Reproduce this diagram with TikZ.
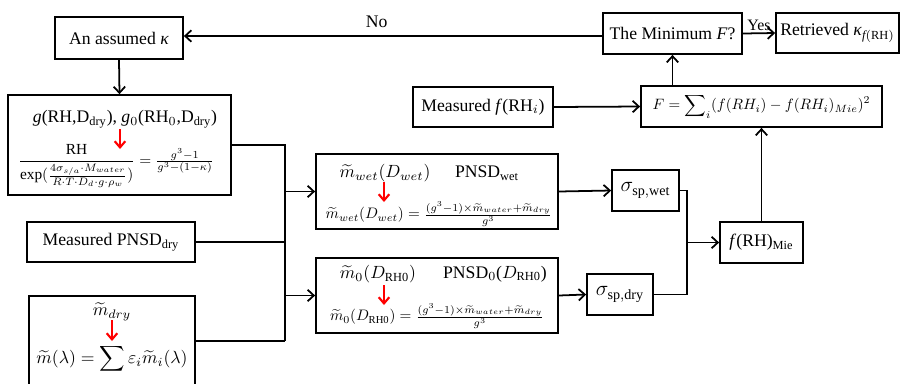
\documentclass[tikz,border=0pt]{standalone}
\usepackage{amsmath}
\usepackage{fontspec}
\setmainfont{Liberation Serif}
\usetikzlibrary{arrows.meta}

\newlength\unitpx
\setlength\unitpx{0.566pt}

\tikzset{
  box/.style={draw, line width=1pt, inner sep=1pt},
  txt/.style={inner sep=0pt},
  line/.style={line width=1pt},
  arr/.style={line width=1pt, -{Straight Barb[length=3.5pt,width=6.5pt]}},
  redarr/.style={red, line width=1.2pt, -{Straight Barb[length=3.5pt,width=6pt]}},
}

\begin{document}
\begin{tikzpicture}[x=0.566pt, y=-0.566pt]
    \useasboundingbox (0,0) rectangle (901,383);

    % Left column boxes
    \node[box, minimum width=128\unitpx, minimum height=42\unitpx] (kappa) at (119,38) {An assumed \textit{κ}};
    \node[box, minimum width=223\unitpx, minimum height=100\unitpx] (gbox) at (119.5,145) {};
    \node[box, minimum width=168\unitpx, minimum height=40\unitpx] (pnsd) at (111,242) {Measured PNSD$_{\mathrm{dry}}$};
    \node[box, minimum width=166\unitpx, minimum height=90\unitpx] (mbox) at (112,341) {};

    % Text inside the g box
    \node[txt] (gtop) at (125,119) {\textit{g}(RH,D$_{\mathrm{dry}}$), \textit{g}$_0$(RH$_0$,D$_{\mathrm{dry}}$)};
    \node[txt] (gfrac) at (116,166) {\scalebox{0.87}{$\dfrac{\mathrm{RH}}{\exp(\frac{4\sigma_{s/a}\cdot M_{water}}{R\cdot T\cdot D_d\cdot g\cdot\rho_w})}=\frac{g^3-1}{g^3-(1-\kappa)}$}};
    \draw[redarr] (120,129) -- (120,149);

    % Text inside the refractive index box
    \node[txt] (mdry) at (112,312) {$\widetilde{m}_{dry}$};
    \node[txt] (msum) at (112,359) {$\widetilde{m}(\lambda)=\displaystyle\sum\varepsilon_i\widetilde{m}_i(\lambda)$};
    \draw[redarr] (112,320) -- (112,341);

    % Middle boxes
    \node[box, minimum width=242\unitpx, minimum height=75\unitpx] (wet) at (437,191.5) {};
    \node[txt] (wtop) at (385,173) {$\widetilde{m}_{wet}(D_{wet})$};
    \node[txt] (wpnsd) at (487,173) {PNSD$_{\mathrm{wet}}$};
    \node[txt] (wfrac) at (439,214) {\scalebox{0.86}{$\widetilde{m}_{wet}(D_{wet})=\frac{(g^3-1)\times\widetilde{m}_{water}+\widetilde{m}_{dry}}{g^3}$}};
    \draw[redarr] (384,182) -- (384,202);

    \node[txt, minimum width=242\unitpx, minimum height=75\unitpx, draw, line width=1pt] (zero) at (437,295.5) {};
    \node[txt] (ztop) at (378,274) {$\widetilde{m}_0(D_{\mathrm{RH0}})$};
    \node[txt] (zpnsd) at (495,274) {PNSD$_0$($D_{\mathrm{RH0}}$)};
    \node[txt] (zfrac) at (437,316) {\scalebox{0.86}{$\widetilde{m}_0(D_{\mathrm{RH0}})=\frac{(g^3-1)\times\widetilde{m}_{water}+\widetilde{m}_{dry}}{g^3}$}};
    \draw[redarr] (384,285) -- (384,305);

    % Scattering boxes
    \node[box, minimum width=67\unitpx, minimum height=41\unitpx] (swet) at (645.5,190.5) {\large$\sigma_{\mathrm{sp,wet}}$};
    \node[box, minimum width=66\unitpx, minimum height=41\unitpx] (sdry) at (620,294.5) {\large$\sigma_{\mathrm{sp,dry}}$};
    \node[box, minimum width=83\unitpx, minimum height=41\unitpx] (fmie) at (761.5,242.5) {\textit{f}(RH)$_{\mathrm{Mie}}$};

    % Top right boxes
    \node[box, minimum width=241\unitpx, minimum height=41\unitpx] (fbox) at (761.5,106.5) {\scalebox{0.85}{$F=\displaystyle\sum\nolimits_i(f(RH_i)-f(RH_i)_{Mie})^2$}};
    \node[box, minimum width=140\unitpx, minimum height=40\unitpx] (meas) at (483,107) {Measured \textit{f}(RH$_i$)};
    \node[box, minimum width=139\unitpx, minimum height=41\unitpx] (minf) at (672.5,33.5) {The Minimum \textit{F}?};
    \node[box, minimum width=123\unitpx, minimum height=40\unitpx] (retr) at (837.5,33) {Retrieved \textit{κ}$_{\textit{f}\mathrm{(RH)}}$};

    % Connectors on the left
    \coordinate (jl) at (285,341);
    \draw[arr] (kappa.south) -- (gbox.north);
    \draw[line] (gbox.east) -| (jl);
    \draw[line] (pnsd.east) -- (pnsd.east -| jl);
    \draw[line] (mbox.east) -- (jl);
    \draw[arr] (wet.west -| jl) -- (wet.west);
    \draw[arr] (zero.west -| jl) -- (zero.west);

    % Connectors on the right
    \coordinate (jr) at (687,0);
    \draw[arr] (wet.east) -- (swet.west);
    \draw[arr] (zero.east) -- (sdry.west);
    \draw[line] (swet.east) -| (jr |- sdry.east) -- (sdry.east);
    \draw[arr] (jr |- fmie.west) -- (fmie.west);
    \draw[arr] (fmie.north) -- (fbox.south);
    \draw[arr] (meas.east) -- (fbox.west);
    \draw[arr] (minf.south |- fbox.north) -- (minf.south);
    \draw[arr] (minf.east) -- node[above, inner sep=1pt, font=\small] {Yes} (retr.west);

    % Loop back
    \coordinate (nol) at (603,36);
    \draw[arr] (nol) -- node[above, pos=0.54, inner sep=4pt] {No} (nol -| kappa.east);

\end{tikzpicture}
\end{document}
